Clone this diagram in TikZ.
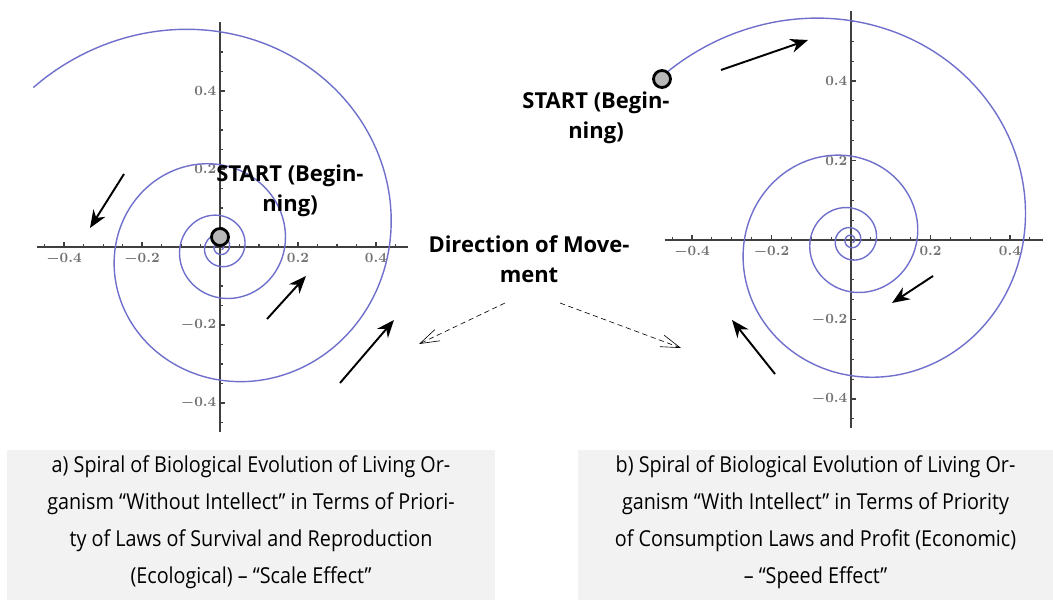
\documentclass[tikz,border=0pt]{standalone}
\usepackage{fontspec}
\setmainfont{Open Sans}
\newfontfamily\capfont[FakeStretch=0.9]{Open Sans}
\usetikzlibrary{arrows.meta}

\definecolor{spiralblue}{RGB}{112,112,204}
\definecolor{capgray}{RGB}{242,242,242}

\tikzset{
  spiral/.style={spiralblue, line width=0.8pt},
  axisline/.style={black!75, line width=1.1pt},
  minortick/.style={black!75, line width=0.6pt},
  majortick/.style={black!75, line width=0.8pt},
  ticklabel/.style={black!55, font=\boldmath\fontsize{8.5}{9}\selectfont, inner sep=1pt},
  startdot/.style={circle, draw=black, fill=black!28, line width=1.6pt, minimum size=0.34cm, inner sep=0pt},
  biglabel/.style={font=\bfseries\fontsize{12.5}{17}\selectfont, align=center},
  move/.style={-{Stealth[length=10pt, width=8pt]}, line width=1.1pt},
  hint/.style={-{Straight Barb[length=11pt, width=7pt]}, densely dashed, line width=0.35pt},
  caption/.style={fill=capgray, font=\capfont\fontsize{12.5}{21}\selectfont, align=center}
}

\begin{document}
\begin{tikzpicture}[x=0.02cm, y=0.02cm]
  \useasboundingbox (0,0) rectangle (1053,599);

  \foreach \ox/\oy/\s in {220/352/7.8, 851/359/7.95} % origins of the two plots
  {
    \begin{scope}[shift={(\ox,\oy)}, x=\s cm, y=\s cm]
      % axes
      \draw[axisline] (-0.469,0) -- (0.482,0);
      \draw[axisline] (0,-0.474) -- (0,0.577);
      \foreach \i in {-0.45,-0.4,...,0.46} % minor ticks on x
        \draw[minortick] (\i,0) -- ++(0,0.008);
      \foreach \i in {-0.45,-0.4,...,0.56} % minor ticks on y
        \draw[minortick] (0,\i) -- ++(0.008,0);
      \pgfkeys{/pgf/number format/.cd,fixed,zerofill=true,precision=1}
      \foreach \i in {-0.4,-0.2,0.2,0.4} % major ticks and numbers
      {
        \draw[majortick] (\i,0) -- ++(0,0.013) (0,\i) -- ++(0.013,0);
        \node[ticklabel, below] at (\i,-0.01) {\pgfmathprintnumber{\i}};
        \node[ticklabel, left] at (-0.004,\i) {\pgfmathprintnumber{\i}};
      }
      % the spiral itself
      \draw[spiral] plot[domain=-1500:139.5, samples=500, smooth]
        ({0.434*exp(0.00267*\x)*cos(\x)}, {0.434*exp(0.00267*\x)*sin(\x)});
    \end{scope}
  }

  % start points
  \node[startdot] (starta) at (220,362) {};
  \node[startdot] (startb) at (662,520) {};
  \node[biglabel] (labela) at (290,408) {START (Begin-\\ning)};
  \node[biglabel] (labelb) at (596,481) {START (Begin-\\ning)};

  % arrows along the spirals
  \foreach \sx/\sy/\ex/\ey in {124/425/90/371, 267/280/306/323, 340/216/394/279,
                               721/529/808/559, 933/323/892/296, 775/225/732/279}
    \draw[move] (\sx,\sy) -- (\ex,\ey);

  % direction of movement
  \node[biglabel] (dir) at (529,340) {Direction of Move-\\ment};
  \coordinate (dirl) at (505,296);
  \coordinate (dirr) at (560,296);
  \coordinate (tipl) at (419,255);
  \coordinate (tipr) at (681,251);
  \draw[hint] (dirl) -- (tipl);
  \draw[hint] (dirr) -- (tipr);

  % captions
  \node[caption, minimum width=9.76cm, minimum height=2.92cm] (capa) at (251,74)
    {a) Spiral of Biological Evolution of Living Or-\\
     ganism “Without Intellect” in Terms of Priori-\\
     ty of Laws of Survival and Reproduction\\
     (Ecological) – “Scale Effect”\vphantom{y}\rule[-6pt]{0pt}{0pt}};
  \node[caption, minimum width=9.5cm, minimum height=2.92cm] (capb) at (815.5,74)
    {b) Spiral of Biological Evolution of Living Or-\\
     ganism “With Intellect” in Terms of Priority\\
     of Consumption Laws and Profit (Economic)\\
     – “Speed Effect”\vphantom{y}\rule[-6pt]{0pt}{0pt}};
\end{tikzpicture}
\end{document}
